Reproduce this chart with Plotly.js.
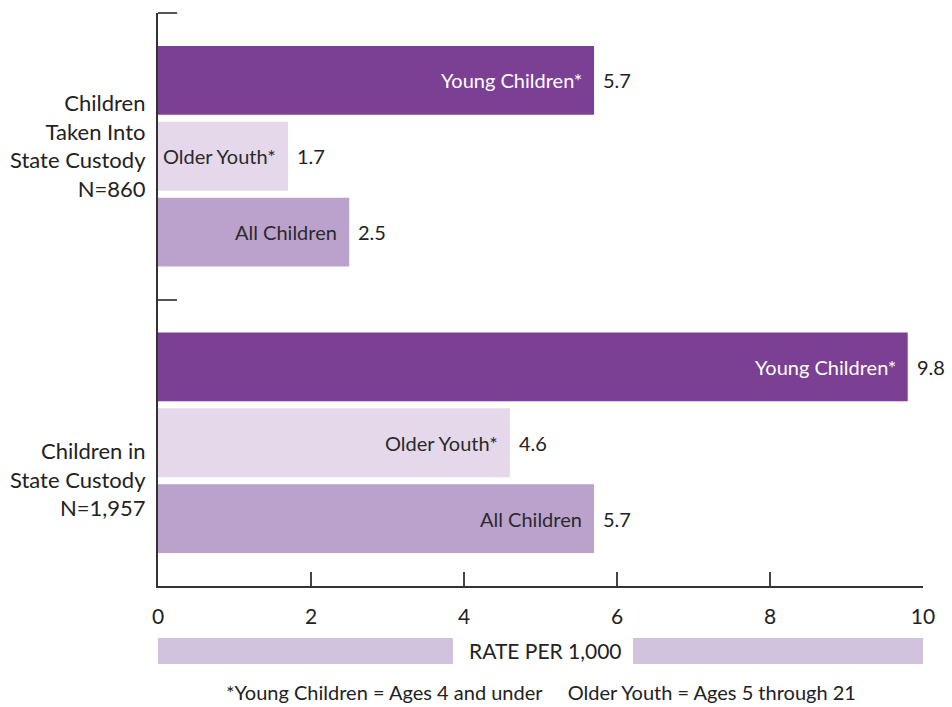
<!DOCTYPE html>
<html>
<head>
<meta charset="utf-8">
<script src="https://cdn.plot.ly/plotly-3.0.1.min.js"></script>
<style>html,body{margin:0;padding:0;background:#fff;}#chart{width:952px;height:707px;}</style>
</head>
<body>
<div id="chart"></div>
<script>
// ---- data ----
var groups = ["Children<br>Taken Into<br>State Custody<br>N=860", "Children in<br>State Custody<br>N=1,957"];
var seriesNames = ["Young Children*", "Older Youth*", "All Children"];
var youngChildren = [5.7, 9.8];
var olderYouth = [1.7, 4.6];
var allChildren = [2.5, 5.7];
var xTicks = [0, 2, 4, 6, 8, 10];
var axisTitle = "RATE PER 1,000";
var footnote = "*Young Children = Ages 4 and under \u00a0\u00a0\u00a0\u00a0Older Youth = Ages 5 through 21";

// ---- styling ----
var colors = ["#7B3F94", "#E4D8EA", "#BBA2CC"];
var labelColors = ["#ffffff", "#2a2a2a", "#2a2a2a"];
var FONT = "Lato, 'Open Sans', sans-serif";
var step = 0.265, barW = 0.24;

var values = [youngChildren, olderYouth, allChildren];
var traces = [];
var annotations = [];
values.forEach(function (vals, s) {
  var ys = vals.map(function (v, g) { return g + (s - 1) * step; });
  traces.push({
    type: "bar", orientation: "h",
    x: vals, y: ys, width: barW,
    marker: { color: colors[s], line: { width: 0 } },
    hoverinfo: "x", showlegend: false
  });
  vals.forEach(function (v, g) {
    annotations.push({
      x: v, y: ys[g], xref: "x", yref: "y",
      text: seriesNames[s], showarrow: false,
      xanchor: "right", yanchor: "middle", xshift: -10,
      font: { family: FONT, size: 20, color: labelColors[s] }
    });
    annotations.push({
      x: v, y: ys[g], xref: "x", yref: "y",
      text: v.toFixed(1), showarrow: false,
      xanchor: "left", yanchor: "middle", xshift: 7,
      font: { family: FONT, size: 20, color: "#222" }
    });
  });
});

// group labels
var groupShift = [11, -36];
groups.forEach(function (g, i) {
  annotations.push({
    x: 0, y: i, xref: "paper", yref: "y",
    text: g, showarrow: false, align: "right",
    xanchor: "right", yanchor: "middle", xshift: -10, yshift: groupShift[i],
    font: { family: FONT, size: 22, color: "#222" }
  });
});

// axis title and footnote
annotations.push({
  x: 5.06, y: -0.1134, xref: "x", yref: "paper", text: axisTitle,
  showarrow: false, xanchor: "center", yanchor: "middle",
  font: { family: FONT, size: 21, color: "#222" }
});
annotations.push({
  x: 0.5, y: -0.185, xref: "paper", yref: "paper", text: footnote,
  showarrow: false, xanchor: "center", yanchor: "middle",
  font: { family: FONT, size: 20, color: "#222" }
});

var shapes = [
  { type: "rect", xref: "x", yref: "paper", x0: 0, x1: 3.856, y0: -0.0908, y1: -0.136,
    fillcolor: "#D1C2DE", line: { width: 0 } },
  { type: "rect", xref: "x", yref: "paper", x0: 6.21, x1: 10, y0: -0.0908, y1: -0.136,
    fillcolor: "#D1C2DE", line: { width: 0 } },
  // top end tick of the category axis
  { type: "line", xref: "paper", yref: "paper", x0: 0, x1: 0.025, y0: 1, y1: 1,
    line: { color: "#555", width: 2 } }
];

var layout = {
  width: 952, height: 707,
  margin: { l: 158, r: 29, t: 13, b: 121 },
  paper_bgcolor: "#fff", plot_bgcolor: "#fff",
  barmode: "overlay",
  font: { family: FONT, color: "#222" },
  xaxis: {
    range: [0, 10], tickvals: xTicks, ticktext: xTicks.map(String),
    ticks: "inside", ticklen: 14, tickwidth: 1.5, tickcolor: "#444",
    showline: true, linecolor: "#333", linewidth: 2,
    showgrid: false, zeroline: false, ticklabelstandoff: 11,
    tickfont: { family: FONT, size: 21, color: "#222" }, fixedrange: true
  },
  yaxis: {
    range: [1.5, -0.5], tickvals: [0.5], showticklabels: false,
    ticks: "inside", ticklen: 19, tickwidth: 2, tickcolor: "#555",
    showline: true, linecolor: "#333", linewidth: 2,
    showgrid: false, zeroline: false, fixedrange: true
  },
  annotations: annotations,
  shapes: shapes
};

Plotly.newPlot("chart", traces, layout, { displayModeBar: false, staticPlot: true });
</script>
</body>
</html>
